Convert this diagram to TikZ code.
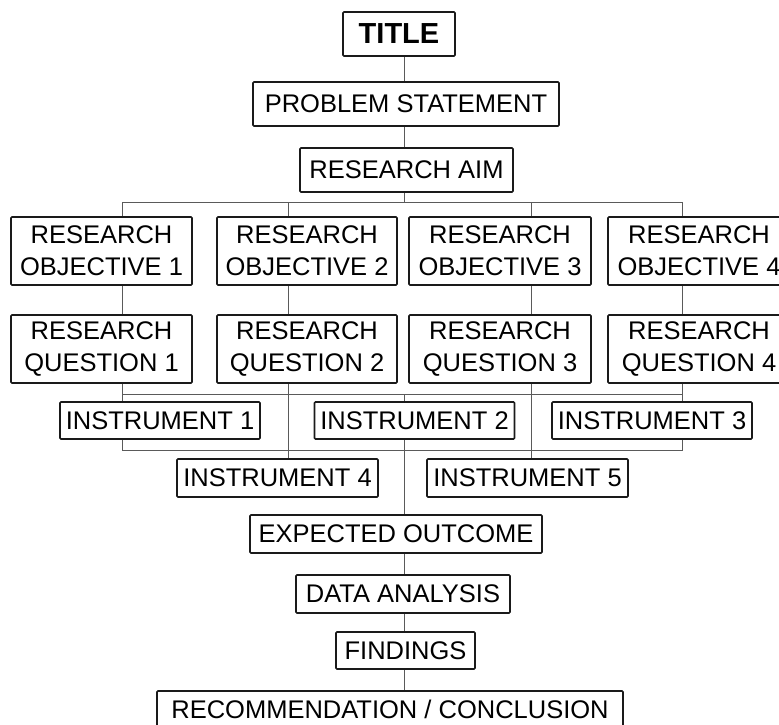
\documentclass[tikz,border=0pt]{standalone}
\usepackage{fontspec}
\setmainfont{Liberation Sans}
\usetikzlibrary{backgrounds}
\definecolor{boxcol}{HTML}{1A1A1A}
\definecolor{linkcol}{HTML}{5A5A5A}
\tikzset{
  box/.style={draw=boxcol, line width=1.6pt, fill=white, rounded corners=1pt,
    inner sep=0pt, align=center, font=\fontsize{25.5}{32}\selectfont},
  link/.style={draw=linkcol, line width=1pt, line cap=rect},
}
\begin{document}
\begin{tikzpicture}[x=1pt,y=-1pt]
\useasboundingbox (0,0) rectangle (779,724);
\clip (0,0) rectangle (779,724);

% helper coordinates
\coordinate (sp) at (404,0);
\coordinate (c1) at (122,0);
\coordinate (c2) at (288,0);
\coordinate (c3) at (531,0);
\coordinate (c4) at (682,0);
\coordinate (b1) at (0,202);
\coordinate (b2) at (0,394);
\coordinate (b3) at (0,450);

% nodes
\node[box, minimum width=112pt, minimum height=44pt,
      font=\fontsize{29}{32}\selectfont\bfseries] (title) at (399,34) {TITLE};
\node[box, minimum width=306pt, minimum height=44pt] (ps) at (406,104) {PROBLEM STATEMENT};
\node[box, minimum width=213pt, minimum height=44pt] (aim) at (406.5,170) {RESEARCH AIM};

\node[box, minimum width=181pt, minimum height=68pt] (o1) at (101.5,251) {RESEARCH\\OBJECTIVE 1};
\node[box, minimum width=180pt, minimum height=68pt] (o2) at (307,251) {RESEARCH\\OBJECTIVE 2};
\node[box, minimum width=182pt, minimum height=68pt] (o3) at (500,251) {RESEARCH\\OBJECTIVE 3};
\node[box, minimum width=182pt, minimum height=68pt] (o4) at (699,251) {RESEARCH\\OBJECTIVE 4};

\node[box, minimum width=181pt, minimum height=68pt] (q1) at (101.5,349) {RESEARCH\\QUESTION 1};
\node[box, minimum width=180pt, minimum height=68pt] (q2) at (307,349) {RESEARCH\\QUESTION 2};
\node[box, minimum width=182pt, minimum height=68pt] (q3) at (500,349) {RESEARCH\\QUESTION 3};
\node[box, minimum width=182pt, minimum height=68pt] (q4) at (699,349) {RESEARCH\\QUESTION 4};

\node[box, minimum width=200pt, minimum height=37pt] (i1) at (160,420.5) {INSTRUMENT 1};
\node[box, minimum width=200pt, minimum height=37pt] (i2) at (414.5,420.5) {INSTRUMENT 2};
\node[box, minimum width=200pt, minimum height=37pt] (i3) at (652,420.5) {INSTRUMENT 3};
\node[box, minimum width=201pt, minimum height=38pt] (i4) at (277.5,478) {INSTRUMENT 4};
\node[box, minimum width=201pt, minimum height=38pt] (i5) at (527.5,478) {INSTRUMENT 5};

\node[box, minimum width=292pt, minimum height=38pt] (eo) at (396,534) {EXPECTED OUTCOME};
\node[box, minimum width=214pt, minimum height=38pt] (da) at (403,594) {DATA ANALYSIS};
\node[box, minimum width=139pt, minimum height=37pt] (fi) at (405.5,650.5) {FINDINGS};
\node[box, minimum width=466pt, minimum height=36pt] (rc) at (390,709) {RECOMMENDATION / CONCLUSION};

% connectors
\begin{scope}[on background layer]
\fill[white] (0,0) rectangle (779,724);
\draw[link] (title.south -| sp) -- (ps.north -| sp);
\draw[link] (ps.south -| sp) -- (aim.north -| sp);
\draw[link] (aim.south -| sp) -- (b1 -| sp);
\draw[link] (b1 -| c1) -- (b1 -| c4);
\foreach \i in {1,2,3,4}{
  \draw[link] (b1 -| c\i) -- (o\i.north -| c\i);
  \draw[link] (o\i.south -| c\i) -- (q\i.north -| c\i);
  \draw[link] (q\i.south -| c\i) -- (b2 -| c\i);
}
\draw[link] (b2 -| c1) -- (b2 -| c4);
\draw[link] (b2 -| c2) -- (i4.north -| c2);
\draw[link] (b2 -| c3) -- (i5.north -| c3);
\draw[link] (b2 -| sp) -- (eo.north -| sp);
\draw[link] (b2 -| c1) -- (b3 -| c1) -- (b3 -| c4) -- (b2 -| c4);
\draw[link] (eo.south -| sp) -- (da.north -| sp);
\draw[link] (da.south -| sp) -- (fi.north -| sp);
\draw[link] (fi.south -| sp) -- (rc.north -| sp);
\end{scope}
\end{tikzpicture}
\end{document}
